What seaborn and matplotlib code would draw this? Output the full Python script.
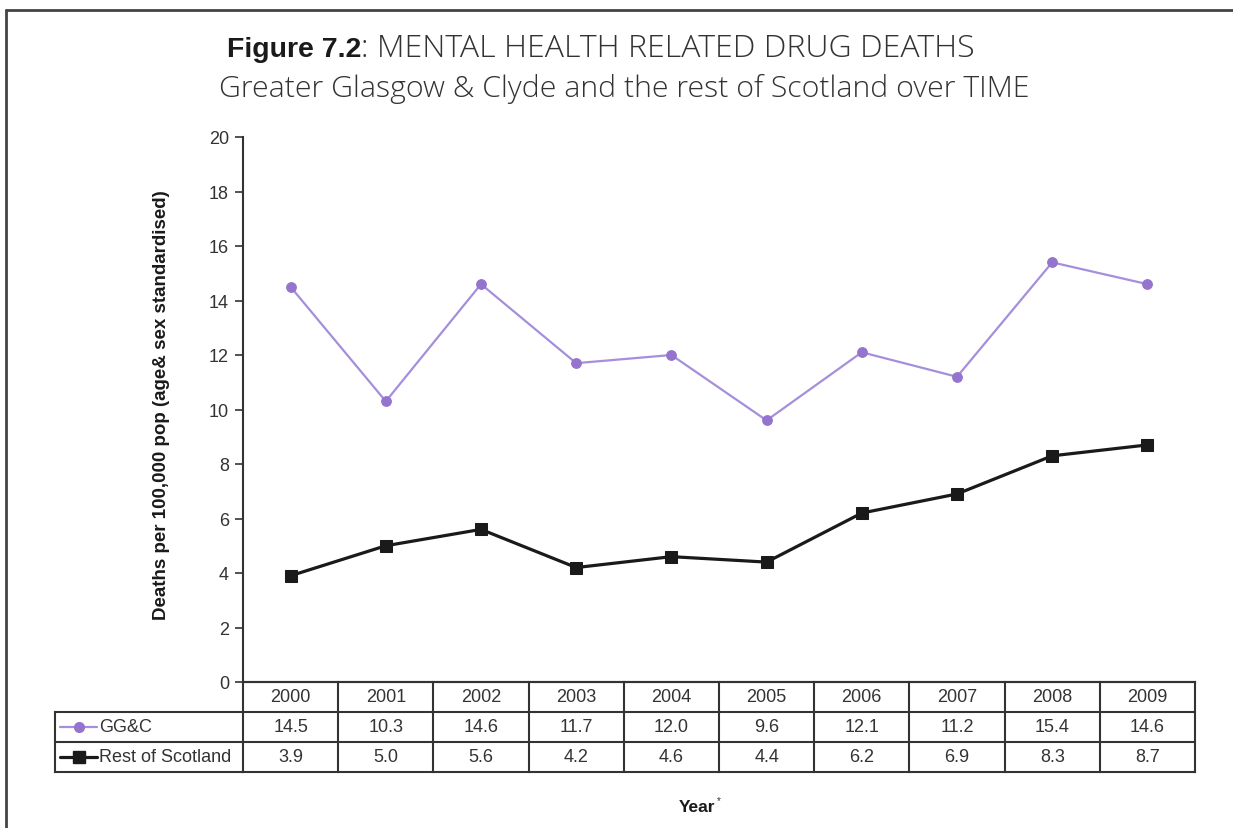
import numpy as np
import pandas as pd
import matplotlib.pyplot as plt
from matplotlib.lines import Line2D
import seaborn as sns

# data
years = ['2000', '2001', '2002', '2003', '2004', '2005', '2006', '2007', '2008', '2009']
ggc = [14.5, 10.3, 14.6, 11.7, 12.0, 9.6, 12.1, 11.2, 15.4, 14.6]
rest_of_scotland = [3.9, 5.0, 5.6, 4.2, 4.6, 4.4, 6.2, 6.9, 8.3, 8.7]
series_names = ['GG&C', 'Rest of Scotland']
y_ticks = [0, 2, 4, 6, 8, 10, 12, 14, 16, 18, 20]

W, H = 1233, 829
PURPLE_LINE = '#a58fdc'
PURPLE_MARK = '#9474cc'
BLACK = '#1a1a1a'
GRID = '#333333'
TXT = '#333333'

sns.set_theme(style='white')
plt.rcParams['font.family'] = ['Liberation Sans', 'DejaVu Sans']


def fx(px):
    return px / W


def fy(py):
    return 1 - py / H


fig = plt.figure(figsize=(W / 100, H / 100), dpi=100)

# main axes
ax = fig.add_axes([fx(243), fy(683), fx(1195) - fx(243), fy(138) - fy(683)])

df = pd.DataFrame({
    'pos': np.tile(np.arange(len(years)), 2),
    'value': ggc + rest_of_scotland,
    'series': [series_names[0]] * len(years) + [series_names[1]] * len(years),
})
sns.lineplot(data=df, x='pos', y='value', hue='series', style='series',
             palette={series_names[0]: PURPLE_LINE, series_names[1]: BLACK},
             markers={series_names[0]: 'o', series_names[1]: 's'},
             dashes=False, legend=False, ax=ax)

# restyle lines: thin lavender line with darker dots, thicker black with squares
l_ggc, l_rest = ax.lines[0], ax.lines[1]
l_ggc.set_linewidth(1.6)
l_ggc.set_markersize(7)
l_ggc.set_markerfacecolor(PURPLE_MARK)
l_ggc.set_markeredgecolor(PURPLE_MARK)
l_rest.set_linewidth(2.3)
l_rest.set_markersize(8.5)
l_rest.set_markerfacecolor(BLACK)
l_rest.set_markeredgecolor(BLACK)

ax.set_xlim(-0.5, len(years) - 0.5)
ax.set_ylim(0, 20)
ax.set_yticks(y_ticks)
ax.set_xticks([])
ax.set_xlabel('')
ax.tick_params(axis='y', left=True, direction='out', length=6, width=1.2,
               color=GRID, labelsize=13, labelcolor=TXT, pad=4)
for side in ['top', 'right']:
    ax.spines[side].set_visible(False)
for side in ['left', 'bottom']:
    ax.spines[side].set_color(GRID)
    ax.spines[side].set_linewidth(1.5)
ax.set_ylabel('Deaths per 100,000 pop (age& sex standardised)',
              fontsize=13.5, fontweight='bold', color=BLACK)
ax.yaxis.set_label_coords(-0.077, 0.51)

# data table under the axes
tab = fig.add_axes([fx(243), fy(773), fx(1195) - fx(243), fy(683) - fy(773)])
tab.set_xlim(-0.5, len(years) - 0.5)
tab.set_ylim(3, 0)
tab.axis('off')

unit = (1195 - 243) / len(years)
x_left = -0.5 - (243 - 55) / unit
lkw = dict(color=GRID, lw=1.5, clip_on=False, solid_capstyle='projecting')
for r in range(4):
    tab.plot([-0.5, len(years) - 0.5], [r, r], **lkw)
for c in range(len(years) + 1):
    tab.plot([c - 0.5, c - 0.5], [0, 3], **lkw)
for r in [1, 2, 3]:
    tab.plot([x_left, -0.5], [r, r], **lkw)
tab.plot([x_left, x_left], [1, 3], **lkw)

tkw = dict(ha='center', va='center', fontsize=13, color=TXT)
for i, yr in enumerate(years):
    tab.text(i, 0.5, yr, **tkw)
    tab.text(i, 1.5, f'{ggc[i]:.1f}', **tkw)
    tab.text(i, 2.5, f'{rest_of_scotland[i]:.1f}', **tkw)

# legend glyphs in the row labels
g0 = x_left + (60 - 55) / unit
g1 = x_left + (97 - 55) / unit
gm = (g0 + g1) / 2
tab.plot([g0, g1], [1.5, 1.5], color=PURPLE_LINE, lw=1.6, clip_on=False)
tab.plot([gm], [1.5], marker='o', ms=7, color=PURPLE_MARK, clip_on=False)
tab.plot([g0, g1], [2.5, 2.5], color=BLACK, lw=2.3, clip_on=False)
tab.plot([gm], [2.5], marker='s', ms=8.5, color=BLACK, clip_on=False)
lx = x_left + (99 - 55) / unit
tab.text(lx, 1.5, series_names[0], ha='left', va='center', fontsize=13, color=TXT)
tab.text(lx, 2.5, series_names[1], ha='left', va='center', fontsize=13, color=TXT)

# x label
fig.text(fx(697), fy(808), 'Year', ha='center', va='center',
         fontsize=12.5, fontweight='bold', color=BLACK)
fig.text(fx(717), fy(801), '*', ha='left', va='center', fontsize=7, color=TXT)

# title, two styles on one line
t1 = fig.text(fx(227), fy(57), 'Figure 7.2', ha='left', va='baseline',
              fontsize=20.5, fontweight='bold', color=BLACK)
fig.canvas.draw()
r = fig.canvas.get_renderer()
bb = t1.get_window_extent(r)
light = dict(fontweight='light', color=TXT, family=['Open Sans', 'DejaVu Sans'])
t2 = fig.text(bb.x1 / W, fy(57), ': MENTAL HEALTH RELATED DRUG DEATHS', ha='left',
              va='baseline', fontsize=19, **light)
t3 = fig.text(fx(624), fy(97), 'Greater Glasgow & Clyde and the rest of Scotland over TIME',
              ha='center', va='baseline', fontsize=19, **light)
# fit the light title texts to the width they take in the original
for t, target in [(t2, 1025 - bb.x1), (t3, 1030 - 218)]:
    w = t.get_window_extent(r).width
    t.set_fontsize(min(23.0, 19 * target / w))

# frame lines (top and left)
fig.add_artist(Line2D([fx(6), 1], [fy(11), fy(11)], transform=fig.transFigure, color='#444444', lw=2))
fig.add_artist(Line2D([fx(6), fx(6)], [fy(11), 0], transform=fig.transFigure, color='#444444', lw=2))

fig.savefig('out.png', dpi=100)
